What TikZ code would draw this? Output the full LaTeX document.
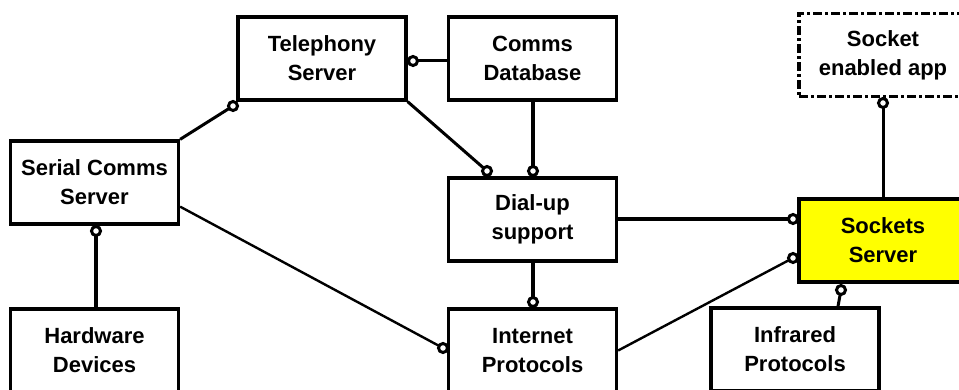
\documentclass[tikz,border=0pt]{standalone}
\usepackage{fontspec}
\setmainfont{Liberation Sans}
\usetikzlibrary{calc}
\definecolor{ssyellow}{RGB}{255,255,0}
\tikzset{
  box/.style={draw, line width=3.3pt, rectangle, inner sep=0pt, fill=white,
    minimum width=168pt, minimum height=83pt, align=center,
    font=\fontsize{22pt}{29pt}\selectfont\bfseries},
  dashbox/.style={box, dash pattern=on 9pt off 3pt on 3pt off 3pt},
  dot/.style={draw, circle, line width=3pt, fill=white, inner sep=0pt, minimum size=9pt},
  thinlink/.style={line width=2.4pt},
  medlink/.style={line width=3pt},
  thicklink/.style={line width=4.5pt},
}
\begin{document}
\begin{tikzpicture}[x=1pt,y=-1pt]
\useasboundingbox (0,0) rectangle (959,390);
\clip (0,0) rectangle (959,390);
\fill[white] (0,0) rectangle (959,390);
% boxes
\node[box] (tel) at (322,58.5) {Telephony\\Server};
\node[box] (cdb) at (532.5,58.5) {Comms\\Database};
\node[dashbox] (sea) at (883,55) {Socket\\enabled app};
\node[box] (scs) at (94.5,182.5) {Serial Comms\\Server};
\node[box] (dial) at (532.5,219.5) {Dial-up\\support};
\node[box, fill=ssyellow] (ss) at (883,240.5) {Sockets\\Server};
\node[box] (hw) at (94.5,350.5) {Hardware\\Devices};
\node[box] (ip) at (532.5,350.5) {Internet\\Protocols};
\node[box] (ir) at (795,349.5) {Infrared\\Protocols};
% circle positions
\coordinate (c1) at (233,106);
\coordinate (c2) at (413,61);
\coordinate (c3) at (487,171);
\coordinate (c4) at (533,171);
\coordinate (c5) at (793,219);
\coordinate (c6) at (533,302);
\coordinate (c7) at (443,348);
\coordinate (c8) at (793,258);
\coordinate (c9) at (841,290);
\coordinate (c10) at (883,103);
\coordinate (c11) at (96,231);
% connectors
\draw[medlink] (scs.north east) -- (c1);
\draw[medlink] (c2) -- (c2 -| cdb.west);
\draw[medlink] (tel.south east) -- (c3);
\draw[thicklink] (c4 |- cdb.south) -- (c4);
\draw[thicklink] (dial.east |- c5) -- (c5);
\draw[thicklink] (c6 |- dial.south) -- (c6);
\draw[thinlink] ($(scs.south east)+(0,-19)$) -- (c7);
\draw[thinlink] (ip.east) -- (c8);
\draw[medlink] (c9) -- ($(c9 |- ir.north)+(-3,0)$);
\draw[medlink] (c10) -- (c10 |- ss.north);
\draw[thicklink] (c11) -- (c11 |- hw.north);
% circles
\foreach \c in {c1,c2,c3,c4,c5,c6,c7,c8,c9,c10,c11}
  \node[dot] (d\c) at (\c) {};
\end{tikzpicture}
\end{document}
